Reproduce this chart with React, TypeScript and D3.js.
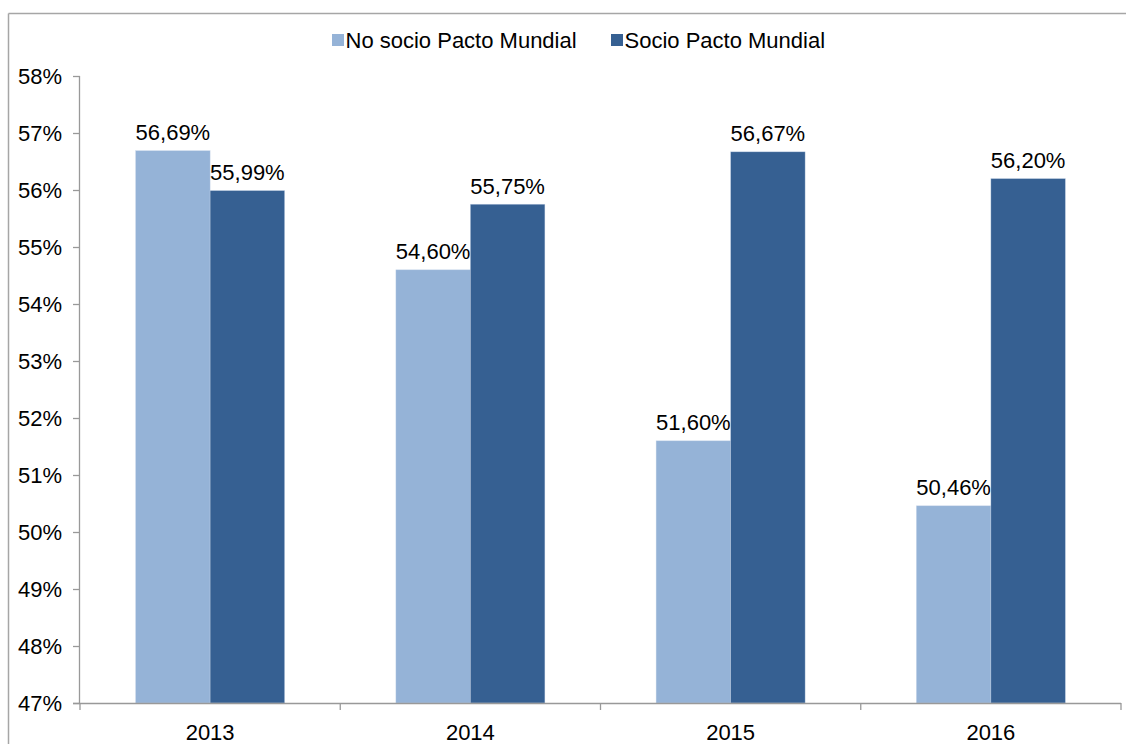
import React from "react";
import * as d3 from "d3";

const years = ["2013", "2014", "2015", "2016"];
const noSocio = [56.69, 54.6, 51.6, 50.46];
const socio = [55.99, 55.75, 56.67, 56.2];
const yTicks = [47, 48, 49, 50, 51, 52, 53, 54, 55, 56, 57, 58];
const seriesNames = ["No socio Pacto Mundial", "Socio Pacto Mundial"];
const colors = ["#95B3D7", "#366092"];

const fmt = (v: number) => v.toFixed(2).replace(".", ",") + "%";

export default function App() {
  const W = 1126, H = 744;
  const left = 80, right = 1121, top = 76, bottom = 703;
  const x = d3.scaleBand().domain(years).range([left, right]).paddingInner(0).paddingOuter(0);
  const y = d3.scaleLinear().domain([47, 58]).range([bottom, top]);
  const inner = d3.scaleBand().domain(["0", "1"]).range([0, 149]);
  const groupOffset = (x.bandwidth() - 149) / 2;
  const font = "Liberation Sans, Arial, sans-serif";
  const series = [noSocio, socio];
  const boundaries = [...years.map((yr) => x(yr)!), right];
  const fs = 22;

  return (
    <svg width={W} height={H} style={{ position: "absolute", left: 0, top: 0 }} fontFamily={font}>
      <rect x={0} y={0} width={W} height={H} fill="#fff" />
      {/* frame */}
      <line x1={8.5} y1={13.5} x2={W} y2={13.5} stroke="#a6a6a6" strokeWidth={1.5} />
      <line x1={8.5} y1={13.5} x2={8.5} y2={H} stroke="#a6a6a6" strokeWidth={1.5} />

      {/* legend */}
      {seriesNames.map((n, i) => {
        const lx = i === 0 ? 332 : 611;
        return (
          <g key={n}>
            <rect x={lx} y={34} width={12} height={12} fill={colors[i]} />
            <text x={lx + 13.5} y={47.5} fontSize={fs} fill="#000">
              {n}
            </text>
          </g>
        );
      })}

      {/* bars */}
      {years.map((yr, ci) =>
        series.map((s, si) => {
          const bx = x(yr)! + groupOffset + inner(String(si))!;
          const bw = inner.bandwidth();
          const v = s[ci];
          return (
            <g key={yr + si}>
              <rect x={bx} y={y(v)} width={bw} height={y(47) - y(v)} fill={colors[si]} stroke="#c8d6ea" strokeWidth={0.6} strokeOpacity={0.6} />
              <text x={bx + bw / 2} y={y(v) - 10.5} textAnchor="middle" fontSize={fs} fill="#000">
                {fmt(v)}
              </text>
            </g>
          );
        })
      )}

      {/* y axis */}
      <line x1={left - 0.5} y1={top} x2={left - 0.5} y2={bottom} stroke="#999" strokeWidth={1.3} />
      {yTicks.map((t) => (
        <g key={t}>
          <line x1={left - 7} y1={y(t) + 0.5} x2={left} y2={y(t) + 0.5} stroke="#999" strokeWidth={1.3} />
          <text x={62} y={y(t) + 7.5} textAnchor="end" fontSize={fs} fill="#000">
            {t}%
          </text>
        </g>
      ))}

      {/* x axis */}
      <line x1={left - 7} y1={bottom + 0.5} x2={right} y2={bottom + 0.5} stroke="#999" strokeWidth={1.3} />
      {boundaries.map((b, i) => (
        <line key={i} x1={b} y1={bottom} x2={b} y2={bottom + 7} stroke="#999" strokeWidth={1.3} />
      ))}
      {years.map((yr) => (
        <text key={yr} x={x(yr)! + x.bandwidth() / 2} y={739.5} textAnchor="middle" fontSize={fs} fill="#000">
          {yr}
        </text>
      ))}
    </svg>
  );
}
